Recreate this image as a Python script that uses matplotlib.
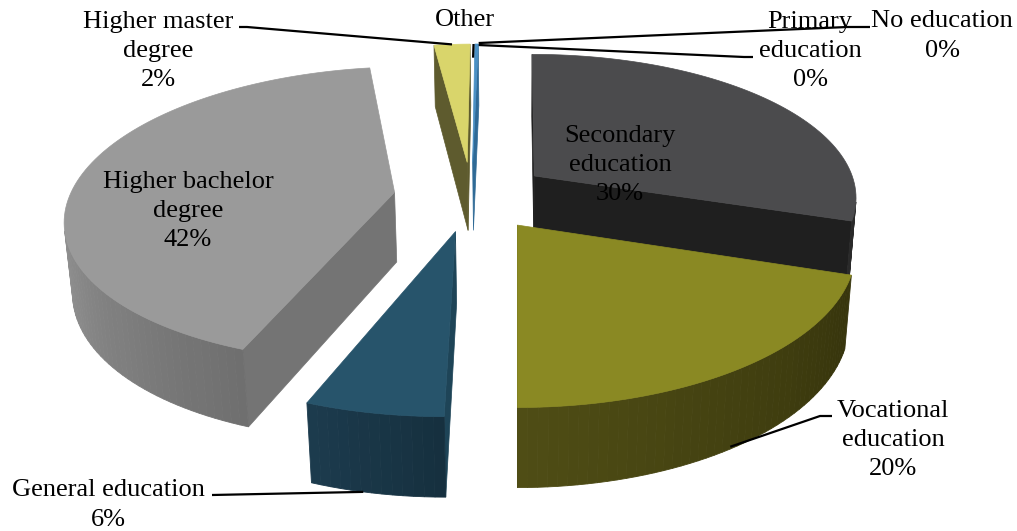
import numpy as np
import matplotlib
matplotlib.use("Agg")
import matplotlib.pyplot as plt
from matplotlib.patches import Polygon
from matplotlib.colors import to_rgb

# education level shares (%), in Excel order (clockwise from 12 o'clock)
categories = ["No education", "Primary education", "Secondary education",
              "Vocational education", "General education",
              "Higher bachelor degree", "Higher master degree", "Other"]
label_names = ["No education", "Primary\neducation", "Secondary\neducation",
               "Vocational\neducation", "General education",
               "Higher bachelor\ndegree", "Higher master\ndegree", "Other"]
shares = [0.0, 0.0, 30.0, 20.0, 5.7, 42.0, 2.1, 0.2]
show_pct = [True, True, True, True, True, True, True, False]

top_colors = ["#4a90c4", "#4a90c4", "#4b4b4d", "#8a8923", "#27546b",
              "#9a9a9a", "#d9d56b", "#4a90c4"]
radial_colors = ["#2f6a96", "#2f6a96", "#1f1f1f", "#4e4c15", "#1e4457",
                 "#747474", "#5e5b2e", "#2f6a96"]
wall_start = ["#2f6a96", "#2f6a96", "#2e2e2e", "#36340c", "#16303f",
              "#6f6f6f", "#6b6834", "#2f6a96"]
wall_end = ["#2f6a96", "#2f6a96", "#2a2a2a", "#4f4d15", "#1c3b4d",
            "#8f8f8f", "#6b6834", "#2f6a96"]

# 3D view set-up (pixel space); camera sits a little right of the pie centre
CAM_X, CX, CY = 0.14, 517, 196
F, D = 1935.0, 5.96
ELEV = np.radians(26.6)
S, C = np.sin(ELEV), np.cos(ELEV)
EXPLODE = 0.24
DEPTH = 0.245
CAM = np.array([CAM_X, -D * C, D * S])


def project(x, y, z):
    den = D + y * C - z * S
    return CX + F * (x - CAM_X) / den, CY - F * (y * S + z * C) / den


def poly(pts3d):
    return np.array([project(*p) for p in pts3d])


def visible(normal, point):
    return np.dot(normal, CAM - np.asarray(point)) > 0


def mix(c1, c2, t):
    a, b = np.array(to_rgb(c1)), np.array(to_rgb(c2))
    return tuple(a + (b - a) * t)


fig = plt.figure(figsize=(10.17, 5.31), dpi=100)
ax = fig.add_axes([0, 0, 1, 1])
ax.set_xlim(0, 1017)
ax.set_ylim(531, 0)
ax.axis("off")

total = sum(shares)
cum = np.concatenate([[0], np.cumsum(shares)]) / total * 2 * np.pi
offsets = []
order = []
for i, v in enumerate(shares):
    a, b = cum[i], cum[i + 1]
    m = (a + b) / 2
    offsets.append((EXPLODE * np.sin(m), EXPLODE * np.cos(m)))
    if v > 0:
        order.append((offsets[-1][1], i))
order.sort(reverse=True)  # far slices first

for _, i in order:
    a, b = cum[i], cum[i + 1]
    ox, oy = offsets[i]
    h = DEPTH
    n = max(4, int(np.degrees(b - a) / 1.5))
    th = np.linspace(a, b, n + 1)

    # radial faces
    for ang, sign in ((a, -1), (b, 1)):
        nrm = sign * np.array([np.cos(ang), -np.sin(ang), 0])
        ex, ey = ox + np.sin(ang), oy + np.cos(ang)
        mid = ((ox + ex) / 2, (oy + ey) / 2, -h / 2)
        if visible(nrm, mid):
            pts = poly([(ox, oy, 0), (ex, ey, 0), (ex, ey, -h), (ox, oy, -h)])
            ax.add_patch(Polygon(pts, closed=True, fc=radial_colors[i],
                                 ec=radial_colors[i], lw=0.5))

    # outer wall
    quads = []
    for t0, t1 in zip(th[:-1], th[1:]):
        tm = (t0 + t1) / 2
        nrm = np.array([np.sin(tm), np.cos(tm), 0])
        pm = (ox + np.sin(tm), oy + np.cos(tm), -h / 2)
        if visible(nrm, pm):
            quads.append((t0, t1))
    for k, (t0, t1) in enumerate(quads):
        col = mix(wall_start[i], wall_end[i], k / max(1, len(quads) - 1))
        pts = poly([(ox + np.sin(t0), oy + np.cos(t0), 0),
                    (ox + np.sin(t1), oy + np.cos(t1), 0),
                    (ox + np.sin(t1), oy + np.cos(t1), -h),
                    (ox + np.sin(t0), oy + np.cos(t0), -h)])
        ax.add_patch(Polygon(pts, closed=True, fc=col, ec=col, lw=0.6))

    # top face
    pts = poly([(ox, oy, 0)] + [(ox + np.sin(t), oy + np.cos(t), 0) for t in th])
    ax.add_patch(Polygon(pts, closed=True, fc=top_colors[i], ec=top_colors[i], lw=0.5))


def slice_point(i, frac, r, z):
    a, b = cum[i], cum[i + 1]
    t = a + (b - a) * frac
    ox, oy = offsets[i]
    return project(ox + r * np.sin(t), oy + r * np.cos(t), z)


def label(i):
    txt = label_names[i]
    if show_pct[i]:
        txt += f"\n{round(shares[i] / total * 100):.0f}%"
    return txt


font = dict(family="Liberation Serif", size=19, color="black",
            ha="center", va="center", linespacing=1.42)

# label positions (pixels) and leader lines
label_pos = {0: (942, 36), 1: (810, 51), 2: (620, 165), 3: (893, 440),
             4: (108, 505), 5: (188, 211), 6: (158, 51), 7: (465, 20)}
for i, (x, y) in label_pos.items():
    ax.text(x, y, label(i), **font)

line = dict(color="black", lw=1.6, solid_capstyle="butt")
# Higher master degree
p = slice_point(6, 0.5, 1.0, 0)
ax.plot([239, 247, p[0]], [27, 27, p[1]], **line)
# Other
p0 = slice_point(7, 0.5, 1.0, 0)
p1 = slice_point(7, 0.5, 0.87, 0)
ax.plot([p0[0] - 3, p1[0] - 3], [p0[1], p1[1]], **line)
# No education / Primary education
p = slice_point(0, 0.5, 1.0, 0)
ax.plot([870, 847, p[0]], [27, 27, p[1] - 1], **line)
ax.plot([753, 744, p[0]], [57, 57, p[1] + 1], **line)
# Vocational education
p = slice_point(3, 0.52, 1.0, -0.97 * DEPTH)
ax.plot([832, 820, p[0]], [416, 416, p[1]], **line)
# General education
p = slice_point(4, 0.6, 1.0, -DEPTH)
ax.plot([212, p[0]], [495, p[1]], **line)

fig.savefig("out.png", dpi=100)
